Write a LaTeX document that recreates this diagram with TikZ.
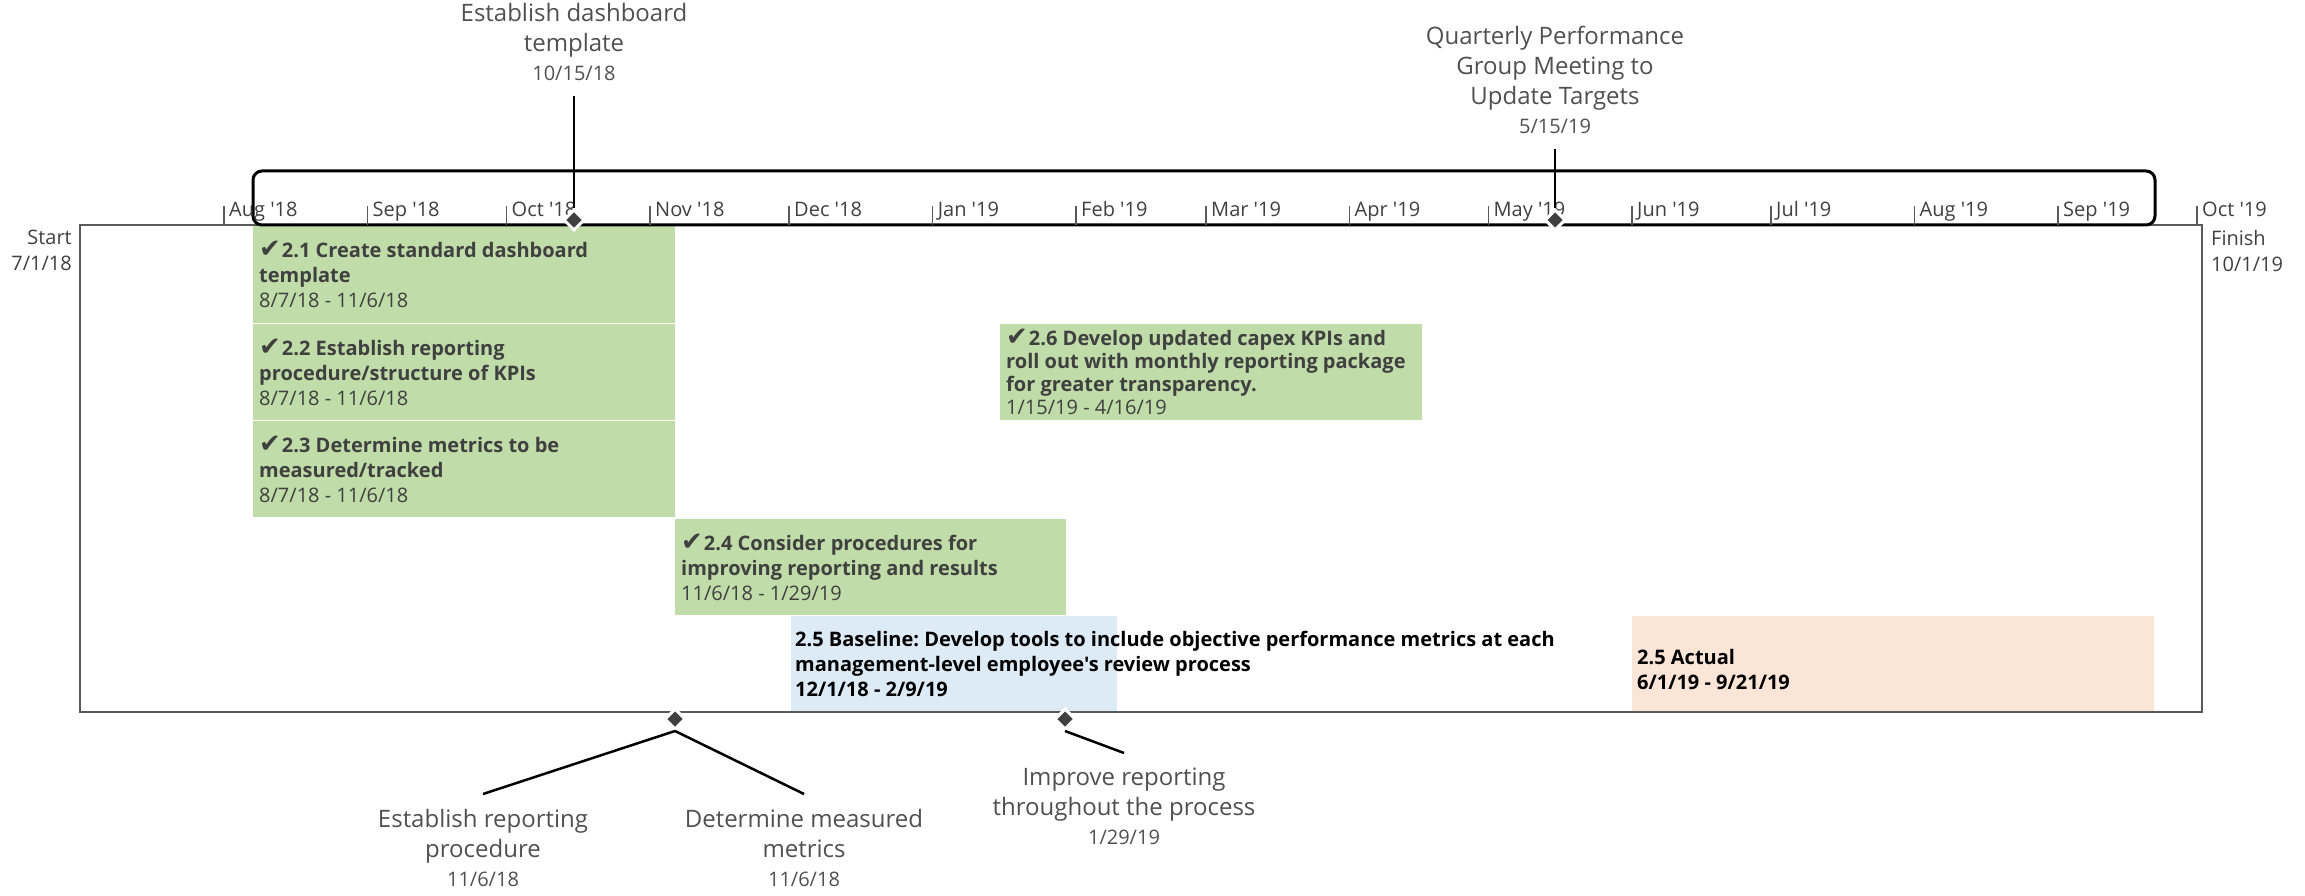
\documentclass[tikz,border=0pt]{standalone}
\usepackage{fontspec}
\setmainfont{Open Sans}[Ligatures=TeXOff]
\newfontfamily\symfont{DejaVu Sans}
\usetikzlibrary{shapes.geometric}
\definecolor{donegreen}{RGB}{192,220,168}
\definecolor{baseblue}{RGB}{221,235,247}
\definecolor{actualpeach}{RGB}{251,229,214}
\definecolor{darktext}{RGB}{64,64,64}
\definecolor{softtext}{RGB}{80,80,80}
\definecolor{framegray}{RGB}{89,89,89}
\newcommand{\chk}{{\symfont\bfseries\fontsize{26}{25}\selectfont\char"2714}\hspace{1pt}}
\newcommand{\smallsize}{\fontsize{20}{25}\selectfont}
\newcommand{\labelsize}{\fontsize{24}{30}\selectfont}
\newcommand{\datesize}{\fontsize{20}{24}\selectfont}
\frenchspacing

\begin{document}
\begin{tikzpicture}[x=1pt, y=-1pt, every node/.style={inner sep=0pt, text=darktext, font=\smallsize}]
	\tikzstyle{taskbar} = [rectangle, anchor=north west, fill=donegreen]
	\tikzstyle{tasktext} = [anchor=west, align=left, font=\smallsize\bfseries]
	\tikzstyle{mslabel} = [align=center, inner ysep=15pt, text=softtext, font=\labelsize]
	\tikzstyle{msmark} = [diamond, fill=darktext, draw=white, line width=3pt, minimum width=21pt, minimum height=21pt]
	\tikzstyle{msline} = [line width=2.5pt]
	\tikzstyle{monthtick} = [framegray, line width=1.5pt]
	\tikzstyle{monthlabel} = [anchor=base west]

	\useasboundingbox (0,0) rectangle (2305,896);

	\node[taskbar, minimum width=422pt, minimum height=97pt] (t21) at (253,226) {};
	\node[taskbar, minimum width=422pt, minimum height=96pt] (t22) at (253,324) {};
	\node[taskbar, minimum width=422pt, minimum height=96pt] (t23) at (253,421) {};
	\node[taskbar, minimum width=391pt, minimum height=96pt] (t24) at (675,519) {};
	\node[taskbar, minimum width=422pt, minimum height=96pt] (t26) at (1000,324) {};
	\node[taskbar, fill=baseblue, minimum width=326pt, minimum height=95pt] (t25b) at (791,616) {};
	\node[taskbar, fill=actualpeach, minimum width=522pt, minimum height=95pt] (t25a) at (1632,616) {};

	\draw[framegray, line width=2.5pt] (80,225) rectangle (2202,712);
	\draw[line width=3pt, rounded corners=9pt] (253,171) rectangle (2155,225);
	\foreach \x/\m [count=\i] in {224/Aug '18, 367.5/Sep '18, 506.5/Oct '18, 650/Nov '18, 789/Dec '18, 932.6/Jan '19, 1076/Feb '19, 1206/Mar '19, 1349.5/Apr '19, 1488.4/May '19, 1632/Jun '19, 1771/Jul '19, 1914.5/Aug '19, 2058/Sep '19, 2197/Oct '19} {
		\draw[monthtick] (\x,206) -- (\x,225);
		\node[monthlabel] (mon\i) at (\x+5,217) {\m};
	}
	\node[anchor=north east, align=right, font=\fontsize{20}{26}\selectfont] (start) at (72,230) {Start\\7/1/18};
	\node[anchor=north west, align=left, font=\fontsize{20}{26}\selectfont] (finish) at (2211,230) {Finish\\10/1/19};

	\node[tasktext] (t21txt) at ([xshift=6pt]t21.west) {\chk2.1 Create standard dashboard\\template\\{\mdseries 8/7/18 - 11/6/18}};
	\node[tasktext] (t22txt) at ([xshift=6pt]t22.west) {\chk2.2 Establish reporting\\procedure/structure of KPIs\\{\mdseries 8/7/18 - 11/6/18}};
	\node[tasktext] (t23txt) at ([xshift=6pt]t23.west) {\chk2.3 Determine metrics to be\\measured/tracked\\{\mdseries 8/7/18 - 11/6/18}};
	\node[tasktext] (t24txt) at ([xshift=6pt]t24.west) {\chk2.4 Consider procedures for\\improving reporting and results\\{\mdseries 11/6/18 - 1/29/19}};
	\node[tasktext, font=\fontsize{20}{23}\selectfont\bfseries] (t26txt) at ([xshift=6pt]t26.west) {\chk2.6 Develop updated capex KPIs and\\roll out with monthly reporting package\\for greater transparency.\\{\mdseries 1/15/19 - 4/16/19}};
	\node[tasktext, text=black] (t25btxt) at ([xshift=4pt]t25b.west) {2.5 Baseline: Develop tools to include objective performance metrics at each\\management-level employee's review process\\12/1/18 - 2/9/19};
	\node[tasktext, text=black, yshift=-6pt] (t25atxt) at ([xshift=5pt]t25a.west) {2.5 Actual\\6/1/19 - 9/21/19};

	\node[msmark] (d1) at (574,220) {};
	\node[msmark] (d2) at (1555,220) {};
	\node[msmark] (d3) at (675,719) {};
	\node[msmark] (d4) at (1065,719) {};

	\node[mslabel, anchor=south] (m1) at (574,96) {Establish dashboard\\template\\[-1pt]{\datesize 10/15/18}};
	\node[mslabel, anchor=south] (m2) at (1555,149) {Quarterly Performance\\Group Meeting to\\Update Targets\\[-1pt]{\datesize 5/15/19}};
	\node[mslabel, anchor=north] (b1) at (483,794) {Establish reporting\\procedure\\[-1pt]{\datesize 11/6/18}};
	\node[mslabel, anchor=north] (b2) at (804,794) {Determine measured\\metrics\\[-1pt]{\datesize 11/6/18}};
	\node[mslabel, anchor=north] (b3) at (1124,753) {Improve reporting\\throughout the process\\[-1pt]{\datesize 1/29/19}};

	\draw[msline] (m1.south) -- (d1);
	\draw[msline] (m2.south) -- (d2);
	\draw[msline] (d3.south) -- (b1.north);
	\draw[msline] (d3.south) -- (b2.north);
	\draw[msline] (d4.south) -- (b3.north);
\end{tikzpicture}
\end{document}
